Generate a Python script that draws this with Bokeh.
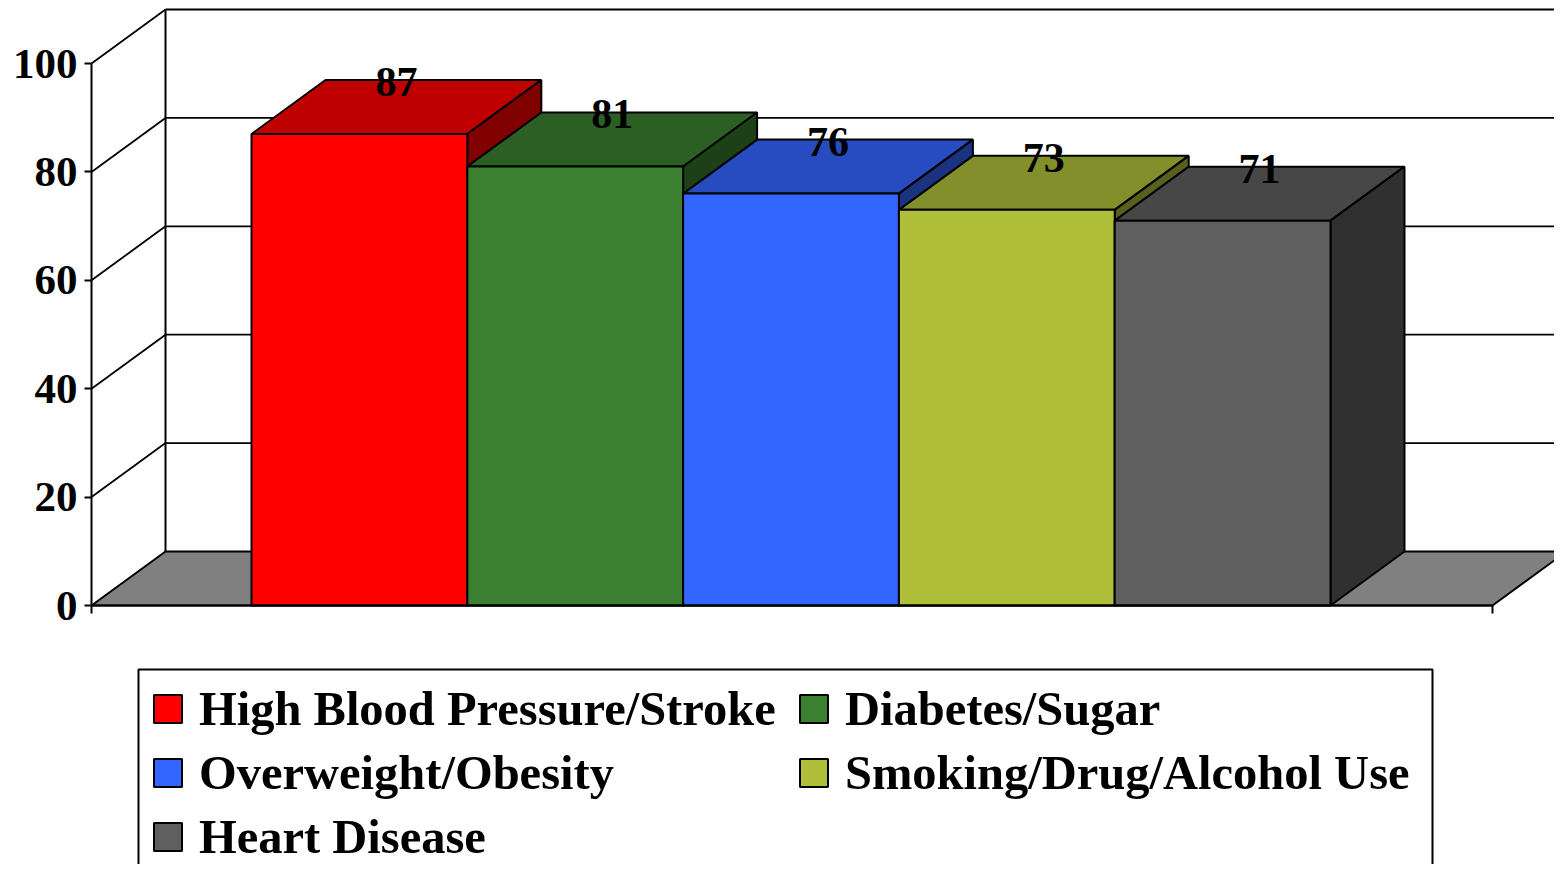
from bokeh.plotting import figure
from bokeh.models import Range1d, FixedTicker, Legend, LegendItem
from bokeh.core.properties import value
from bokeh.embed import file_html
from bokeh.resources import INLINE

categories = ["High Blood Pressure/Stroke", "Diabetes/Sugar", "Overweight/Obesity",
              "Smoking/Drug/Alcohol Use", "Heart Disease"]
values = [87, 81, 76, 73, 71]
front_colors = ["#FF0000", "#3B8030", "#3366FF", "#AFBF3A", "#5F5F5F"]
top_colors = ["#BF0000", "#2C5F24", "#264CBF", "#838F2B", "#474747"]
side_colors = ["#800000", "#1E4018", "#1A3380", "#58601D", "#303030"]
y_ticks = [0, 20, 40, 60, 80, 100]

FONT = "Liberation Serif"
W, H = 1554, 864
# x unit = one bar (216 px), y unit = 1 % (5.42 px)
XU, YU = 215.8, 5.42
X0_PX, Y0_PX = 251.0, 605.0
DX, DY = 74 / XU, 54 / YU
X_LEFT, X_RIGHT = (91 - X0_PX) / XU, (1492 - X0_PX) / XU

def px_x(x):
    return (x - X0_PX) / XU

def px_y(y):
    return (Y0_PX - y) / YU

p = figure(width=W, height=H, frame_width=W, frame_height=H,
           output_backend="svg", toolbar_location=None, min_border=0,
           x_range=Range1d(px_x(0), px_x(W)),
           y_range=Range1d(px_y(H), px_y(0)))
p.grid.visible = False
p.outline_line_color = None

# floor
p.patch([X_LEFT, X_LEFT + DX, X_RIGHT + DX, X_RIGHT], [0, DY, DY, 0],
        fill_color="#808080", line_color="black", line_width=2)
# walls and grid
grid_y = y_ticks[1:]
p.segment([X_LEFT] * len(grid_y), grid_y, [X_LEFT + DX] * len(grid_y), [v + DY for v in grid_y],
          line_color="black", line_width=1.8)
p.segment([X_LEFT + DX] * len(grid_y), [v + DY for v in grid_y],
          [X_RIGHT + DX] * len(grid_y), [v + DY for v in grid_y],
          line_color="black", line_width=1.8)
p.segment([X_LEFT + DX], [DY], [X_LEFT + DX], [100 + DY], line_color="black", line_width=2)

# bars, back to front
items = []
for i, (name, v) in enumerate(zip(categories, values)):
    l, r = float(i), i + 1.0
    p.patch([l, r, r + DX, l + DX], [v, v, v + DY, v + DY],
            fill_color=top_colors[i], line_color="black", line_width=2)
    p.patch([r, r + DX, r + DX, r], [0, DY, v + DY, v],
            fill_color=side_colors[i], line_color="black", line_width=2)
    q = p.quad(left=[l], right=[r], bottom=[0], top=[v],
               fill_color=front_colors[i], line_color="black", line_width=2)
    items.append(LegendItem(label=name, renderers=[q]))

# value labels
p.text([i + 0.5 for i in range(len(values))], values, text=[str(v) for v in values],
       text_font=value(FONT), text_font_style="bold", text_font_size="42px",
       text_align="center", text_baseline="middle", text_color="black",
       x_offset=37, y_offset=-52)

# axes
ya = p.yaxis[0]
ya.fixed_location = X_LEFT
ya.bounds = (0, 100)
ya.ticker = FixedTicker(ticks=y_ticks)
ya.major_tick_in = 0
ya.major_tick_out = 7
ya.major_tick_line_width = 2
ya.minor_tick_line_color = None
ya.axis_line_width = 2
ya.major_label_standoff = 7
ya.major_label_text_font = FONT
ya.major_label_text_font_style = "bold"
ya.major_label_text_font_size = "43px"
ya.major_label_text_color = "black"

xa = p.xaxis[0]
xa.fixed_location = 0
xa.bounds = (X_LEFT, X_RIGHT)
xa.ticker = FixedTicker(ticks=[X_LEFT, X_RIGHT])
xa.major_tick_in = 0
xa.major_tick_out = 8
xa.major_tick_line_width = 2
xa.minor_tick_line_color = None
xa.axis_line_width = 2
xa.major_label_text_color = None
xa.major_label_text_font_size = "1px"

# legend frame (runs off the bottom of the picture) and legend
p.quad(left=[px_x(138)], right=[px_x(1432)], top=[px_y(669)], bottom=[px_y(H + 40)],
       fill_color="white", line_color="black", line_width=2)
legend = Legend(items=[items[k] for k in (0, 2, 4, 1, 3)], ncols=2, orientation="vertical",
                location=(150, 0), margin=0, padding=0, spacing=9,
                glyph_width=35, glyph_height=35, label_standoff=14, label_width=588,
                label_text_font=FONT, label_text_font_style="bold",
                label_text_font_size="48.5px", label_text_color="black",
                border_line_color=None, background_fill_alpha=0)
p.add_layout(legend, "center")

open("out.html", "w").write(file_html(p, INLINE))
